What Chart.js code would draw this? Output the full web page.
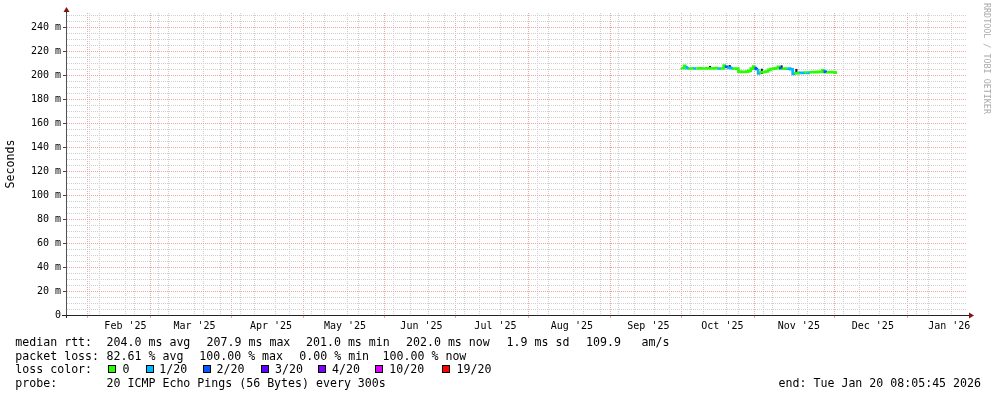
<!DOCTYPE html>
<html><head><meta charset="utf-8">
<script src="https://cdn.jsdelivr.net/npm/chart.js@4/dist/chart.umd.min.js"></script>
<style>
html,body{margin:0;padding:0;background:#fff}
#wrap{position:relative;width:997px;height:397px;overflow:hidden;background:#fff}
canvas{position:absolute;left:0;top:0}
.t{position:absolute;font-family:'DejaVu Sans Mono',monospace;font-size:11.6px;line-height:14px;color:#000;white-space:pre}
.box{position:absolute;width:8px;height:8px;box-sizing:border-box;border:1px solid #000}
#wm{position:absolute;left:982px;top:3px;font-family:'DejaVu Sans Mono',monospace;font-size:8.4px;color:#aaa;writing-mode:vertical-rl;white-space:pre;line-height:9px}
</style></head><body>
<div id="wrap"><canvas id="c" width="997" height="397"></canvas><div id="legend"></div><div id="wm">RRDTOOL / TOBI OETIKER</div></div>
<script>
// ---------------- DATA ----------------
const graphStart = [2025, 1, 25, 8, 5, 45];   // 360 days before end
const graphDays = 360;
const monthStarts = [[2025,2],[2025,3],[2025,4],[2025,5],[2025,6],[2025,7],[2025,8],[2025,9],[2025,10],[2025,11],[2025,12],[2026,1]];
const monthLabels = ["Feb '25","Mar '25","Apr '25","May '25","Jun '25","Jul '25","Aug '25","Sep '25","Oct '25","Nov '25","Dec '25","Jan '26"];
const firstWeekLine = [2025, 2, 2];
const yTickValues = [0,5,10,15,20,25,30,35,40,45,50,55,60,65,70,75,80,85,90,95,100,105,110,115,120,125,130,135,140,145,150,155,160,165,170,175,180,185,190,195,200,205,210,215,220,225,230,235,240,245,250];
const yLabelStep = 20;
const yUnit = 'm';

const rttFirstDay = [2025, 9, 29, 12];
const medianRtt = [205.8,205.6,207.6,205.6,205.5,205.4,205.5,205.5,205.6,205.4,
                   205.5,205.7,205.5,205.4,205.6,205.9,205.5,205.4,207.9,206.8,
                   206.0,205.6,205.4,205.3,202.8,202.5,202.6,202.8,203.5,205.3,
                   207.0,205.0,201.4,202.3,202.5,203.0,204.3,205.0,205.3,205.6,
                   206.8,205.6,205.2,205.5,205.3,204.8,201.0,201.5,201.6,201.8,
                   201.7,202.0,201.8,202.3,202.5,202.3,202.6,202.6,204.0,202.6,
                   202.3,202.4,202.3,202.0];
const lossIndex = [0,0,1,0,0,1,0,0,0,0,
                   0,0,0,0,0,1,0,0,2,1,
                   1,0,0,0,0,0,0,0,0,0,
                   2,1,0,0,0,0,0,0,0,0,
                   2,0,0,1,1,1,0,0,1,1,
                   0,1,0,0,0,0,0,0,2,0,
                   0,0,0,0];
const smokeDay = [11, 19, 32, 40, 46];
const smokeLow = [205.5, 205.8, 201.2, 205.5, 201.0];
const smokeHigh = [207.3, 208.0, 205.0, 207.8, 204.8];

const lossColors = ['#26ff00','#00b8ff','#0059ff','#5e00ff','#7e00ff','#dd00ff','#ff0000'];
const lossLabels = ['0','1/20','2/20','3/20','4/20','10/20','19/20'];
const rttStats = ['204.0 ms avg','207.9 ms max','201.0 ms min','202.0 ms now','1.9 ms sd','109.9','am/s'];
const lossStats = ['82.61 % avg','100.00 % max','0.00 % min','100.00 % now'];
const probeText = '20 ICMP Echo Pings (56 Bytes) every 300s';
const endText = 'end: Tue Jan 20 08:05:45 2026';
const yTitle = 'Seconds';

// ---------------- helpers ----------------
const DAY = 86400000;
const START = Date.UTC(graphStart[0], graphStart[1]-1, graphStart[2], graphStart[3], graphStart[4], graphStart[5]);
const dayOf = (y,m,d,h) => (Date.UTC(y, m-1, d||1, h||0) - START) / DAY;

const xTicks = [];
monthStarts.forEach((ms, i) => {
  const d = dayOf(ms[0], ms[1], 1);
  xTicks.push({value: d, kind: 'month'});
  xTicks.push({value: d + 15, kind: 'label', text: monthLabels[i]});
});
for (let d = dayOf(...firstWeekLine); d <= graphDays; d += 7) xTicks.push({value: d, kind: 'week'});
xTicks.sort((a,b) => a.value - b.value);

const rttStart = dayOf(...rttFirstDay);
const medianPoints = medianRtt.map((v, i) => ({x: rttStart + i, y: v}));
const smokePoints = smokeDay.map((d, i) => ({x: rttStart + d + 0.5, y: [smokeLow[i], smokeHigh[i]]}));

const GRID_MINOR = '#cfcfcf';
const GRID_MAJOR = '#eca6a6';
const CLEAR = 'rgba(0,0,0,0)';
const MONO = "'DejaVu Sans Mono', monospace";

const arrows = {
  id: 'arrows',
  afterDraw(chart) {
    const {ctx, chartArea: a} = chart;
    ctx.save();
    ctx.strokeStyle = '#222'; ctx.lineWidth = 1;
    ctx.beginPath(); ctx.moveTo(a.left + 0.5, a.bottom); ctx.lineTo(a.left + 0.5, a.bottom + 3); ctx.stroke();
    ctx.beginPath(); ctx.moveTo(a.left - 4, a.bottom + 0.5); ctx.lineTo(a.right + 3, a.bottom + 0.5); ctx.stroke();
    ctx.beginPath(); ctx.moveTo(a.left + 0.5, a.top); ctx.lineTo(a.left + 0.5, a.top - 2); ctx.stroke();
    ctx.fillStyle = '#7f1515';
    ctx.beginPath(); ctx.moveTo(a.left + 0.5, a.top - 6); ctx.lineTo(a.left - 2.5, a.top - 1); ctx.lineTo(a.left + 3.5, a.top - 1); ctx.closePath(); ctx.fill();
    ctx.beginPath(); ctx.moveTo(a.right + 8, a.bottom + 0.5); ctx.lineTo(a.right + 3, a.bottom - 2.5); ctx.lineTo(a.right + 3, a.bottom + 3.5); ctx.closePath(); ctx.fill();
    ctx.restore();
  }
};

const xGridColor = c => {
  const k = c.tick ? c.tick.kind : '';
  return k === 'month' ? GRID_MAJOR : (k === 'week' ? GRID_MINOR : CLEAR);
};
const yGridColor = c => {
  if (!c.tick) return CLEAR;
  const v = Math.round(c.tick.value);
  if (v === 0) return CLEAR;
  return v % yLabelStep === 0 ? GRID_MAJOR : GRID_MINOR;
};

new Chart(document.getElementById('c'), {
  type: 'line',
  data: {
    datasets: [
      {
        label: 'median rtt',
        data: medianPoints,
        stepped: 'after',
        borderWidth: 2.6,
        pointRadius: 0,
        borderCapStyle: 'butt',
        borderJoinStyle: 'miter',
        borderColor: lossColors[0],
        segment: { borderColor: c => lossColors[lossIndex[c.p0DataIndex]] },
        order: 0
      },
      {
        type: 'bar',
        label: 'smoke',
        data: smokePoints,
        backgroundColor: '#1c1c30',
        barThickness: 1.5,
        order: 1
      }
    ]
  },
  options: {
    responsive: false,
    devicePixelRatio: 1,
    animation: false,
    layout: { padding: { left: 0, right: 31, top: 13, bottom: 0 } },
    plugins: { legend: { display: false }, tooltip: { enabled: false } },
    scales: {
      x: {
        type: 'linear', min: 0, max: graphDays,
        afterBuildTicks: s => { s.ticks = xTicks.map(t => ({...t})); },
        afterFit: s => { s.height = 82; },
        grid: {
          color: xGridColor,
          tickColor: c => c.tick && c.tick.kind === 'month' ? GRID_MAJOR : CLEAR,
          tickLength: 3,
          lineWidth: 1
        },
        border: { display: true, color: '#111', width: 1, dash: [1, 1] },
        ticks: {
          autoSkip: false, maxRotation: 0, minRotation: 0, padding: 2,
          color: '#000', font: { family: MONO, size: 10 },
          callback: (v, i, ticks) => ticks[i].kind === 'label' ? ticks[i].text : ''
        }
      },
      y: {
        type: 'linear', min: 0, max: 251.7,
        afterBuildTicks: s => { s.ticks = yTickValues.map(v => ({value: v})); },
        afterFit: s => { s.width = 66; },
        grid: {
          color: yGridColor,
          tickColor: c => (c.tick && Math.round(c.tick.value) % yLabelStep === 0) ? '#444' : CLEAR,
          tickLength: 3,
          lineWidth: 1
        },
        border: { display: true, color: '#555', width: 1, dash: [1, 1] },
        ticks: {
          autoSkip: false, padding: 2, color: '#000', font: { family: MONO, size: 10 },
          callback: v => v % yLabelStep === 0 ? (v === 0 ? '0' : v + ' ' + yUnit) : ''
        },
        title: { display: true, text: yTitle, color: '#000', font: { family: MONO, size: 11.6 }, padding: { top: 4, bottom: 0 } }
      }
    }
  },
  plugins: [arrows]
});

// ---------------- legend text (HTML) ----------------
const L = document.getElementById('legend');
function txt(s, x, y, right) {
  const d = document.createElement('div'); d.className = 't'; d.textContent = s;
  d.style.top = y + 'px';
  if (right) { d.style.right = (997 - x) + 'px'; } else { d.style.left = x + 'px'; }
  L.appendChild(d); return d;
}
function box(c, x, y) {
  const d = document.createElement('div'); d.className = 'box'; d.style.background = c;
  d.style.left = x + 'px'; d.style.top = y + 'px'; L.appendChild(d);
}
const rowY = [335, 348.5, 362, 375.7];
const rttX = [106.6, 206.6, 306, 406, 506.6, 586, 641.6];
const lossX = [106.6, 199.3, 299.3, 382.6];
const boxX = [108.3, 145.7, 203.3, 260.7, 318.3, 375, 442.3];
const lossTxtX = [122.6, 159.3, 216.6, 275, 332, 389.3, 456.6];
txt('median rtt:', 15.3, rowY[0]);
rttStats.forEach((s, i) => txt(s, rttX[i], rowY[0]));
txt('packet loss:', 15.3, rowY[1]);
lossStats.forEach((s, i) => txt(s, lossX[i], rowY[1]));
txt('loss color:', 15.3, rowY[2]);
lossColors.forEach((c, i) => { box(c, boxX[i], rowY[2] + 3); txt(lossLabels[i], lossTxtX[i], rowY[2]); });
txt('probe:', 15.3, rowY[3]);
txt(probeText, 106.6, rowY[3]);
txt(endText, 981, rowY[3], true);
</script>
</body></html>
